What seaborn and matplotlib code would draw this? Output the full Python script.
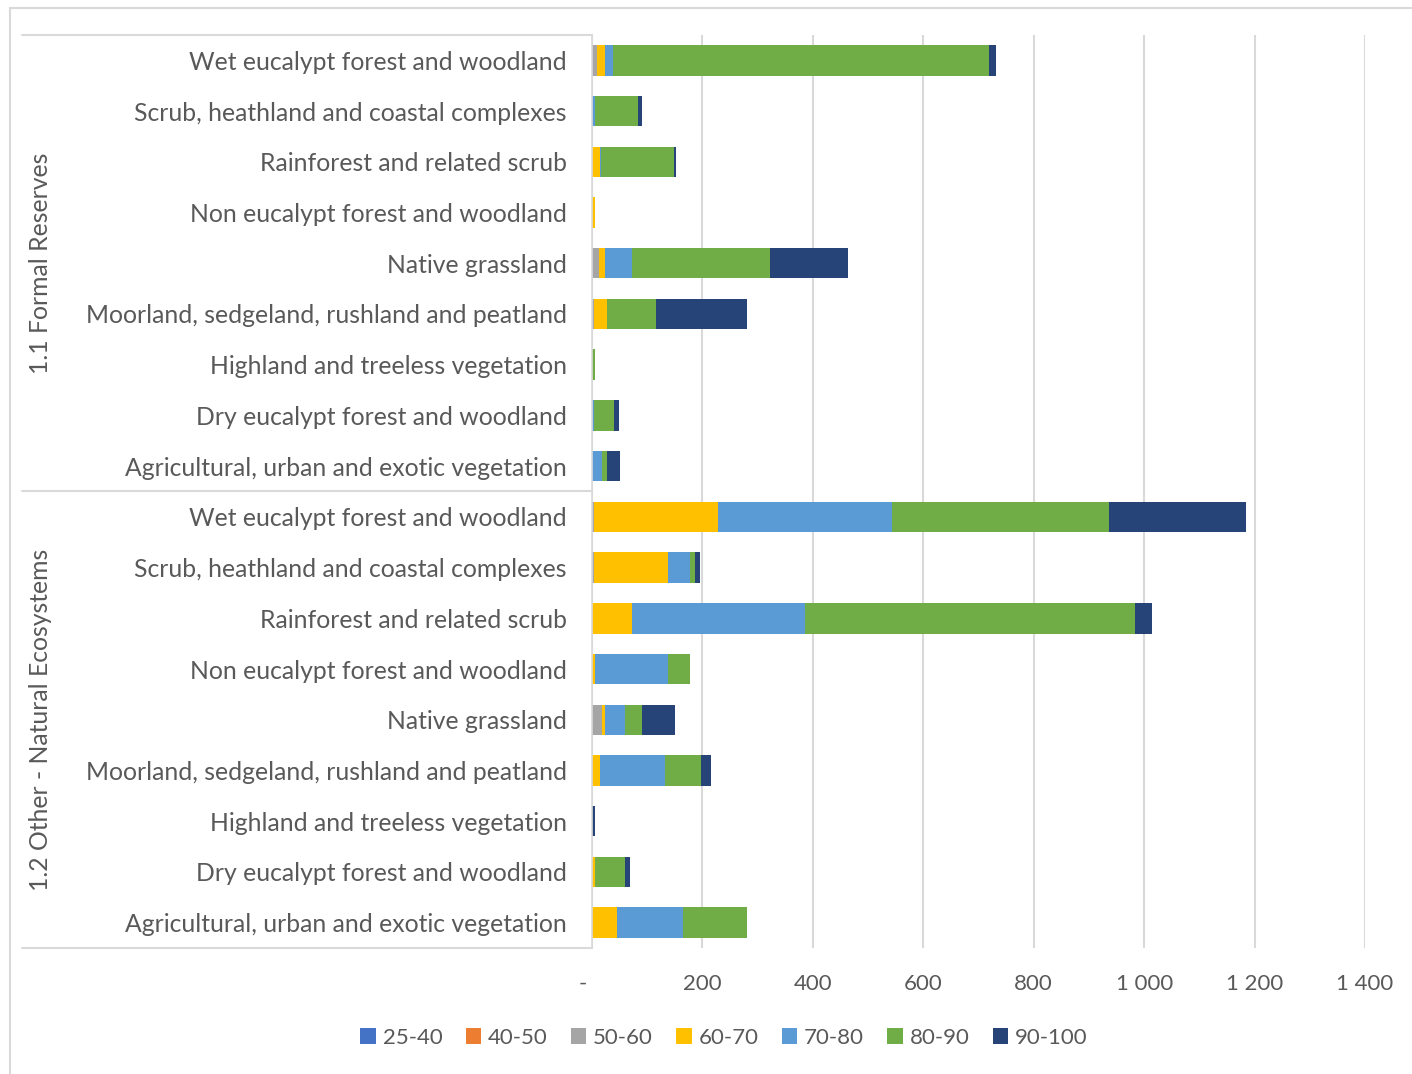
import matplotlib
matplotlib.use("Agg")
import matplotlib.pyplot as plt
import seaborn as sns
import pandas as pd
import numpy as np
from matplotlib.patches import Rectangle, Patch
from matplotlib.lines import Line2D
import matplotlib.transforms as mtransforms

sns.set_theme(style="white")
plt.rcParams['font.family'] = ['Lato', 'DejaVu Sans']

# ---------------- data ----------------
categories = [
    "Wet eucalypt forest and woodland",
    "Scrub, heathland and coastal complexes",
    "Rainforest and related scrub",
    "Non eucalypt forest and woodland",
    "Native grassland",
    "Moorland, sedgeland, rushland and peatland",
    "Highland and treeless vegetation",
    "Dry eucalypt forest and woodland",
    "Agricultural, urban and exotic vegetation",
]
groups = ["1.1 Formal Reserves", "1.2 Other - Natural Ecosystems"]

series_names = ["25-40", "40-50", "50-60", "60-70", "70-80", "80-90", "90-100"]
series_colors = ["#4472C4", "#ED7D31", "#A5A5A5", "#FFC000", "#5B9BD5", "#70AD47", "#264478"]

# values: first 9 = Formal Reserves, next 9 = Other - Natural Ecosystems
s_25_40 = [0, 0, 0, 0, 0, 0, 0, 0, 0,
           0, 0, 0, 0, 0, 0, 0, 0, 0]
s_40_50 = [0, 0, 0, 0, 0, 0, 0, 0, 0,
           0, 0, 0, 0, 0, 0, 0, 0, 0]
s_50_60 = [9, 0, 0, 0, 13, 4, 0, 0, 0,
           4, 4, 0, 0, 18, 0, 0, 0, 0]
s_60_70 = [14.5, 0, 14, 5, 10, 24, 0, 0, 0,
           224, 133, 73, 5, 5, 14, 0, 6, 46]
s_70_80 = [14, 5, 2, 0, 50, 0, 0, 4, 18,
           316, 41, 312, 133, 36, 119, 0, 0, 119]
s_80_90 = [682, 78, 133, 0, 249, 88, 5, 36, 10,
           393, 8, 599, 40, 32, 64, 0, 53, 115]
s_90_100 = [13, 8, 4, 0, 142, 165, 0, 9, 23,
            248, 10, 31, 0, 59, 18, 5, 9, 0]

x_ticks = [0, 200, 400, 600, 800, 1000, 1200, 1400]
x_tick_labels = ["-   ", "200", "400", "600", "800", "1 000", "1 200", "1 400"]

# ---------------- build ----------------
series_vals = [s_25_40, s_40_50, s_50_60, s_60_70, s_70_80, s_80_90, s_90_100]
n = len(categories) * len(groups)
ids = [f"r{i:02d}" for i in range(n)]
labels = categories * len(groups)
df = pd.DataFrame({name: vals for name, vals in zip(series_names, series_vals)})
df["id"] = ids
cum = df[series_names].cumsum(axis=1)

TEXT = "#595959"
GRID = "#D9D9D9"
LABEL_FS = 17.8

fig = plt.figure(figsize=(14.12, 10.74), dpi=100)
ax = fig.add_axes([592 / 1412, 1 - 948 / 1074, (1365 - 592) / 1412, (948 - 35) / 1074])

for k in range(len(series_names) - 1, -1, -1):
    plot_df = pd.DataFrame({"id": ids, "val": cum[series_names[k]].values})
    sns.barplot(data=plot_df, x="val", y="id", order=ids, orient="h",
                color=series_colors[k], width=0.6, saturation=1,
                edgecolor="none", linewidth=0, ax=ax)

ax.set_xlim(0, 1400)
ax.set_ylim(n - 0.5, -0.5)
ax.set_xticks(x_ticks)
ax.set_xticklabels(x_tick_labels, color=TEXT, fontsize=16)
ax.set_yticks(range(n))
ax.set_yticklabels(labels, color=TEXT, fontsize=LABEL_FS)
ax.tick_params(axis="y", length=0, pad=18)
ax.tick_params(axis="x", length=0, pad=19)
ax.set_xlabel("")
ax.set_ylabel("")
ax.set_axisbelow(True)
ax.xaxis.grid(True, color=GRID, linewidth=1.5)
ax.yaxis.grid(False)
for side in ["top", "right", "bottom"]:
    ax.spines[side].set_visible(False)
ax.spines["left"].set_color(GRID)
ax.spines["left"].set_linewidth(1.2)

# group separator lines
trans = mtransforms.blended_transform_factory(fig.transFigure, ax.transData)
x0 = 22 / 1412
x1 = 592 / 1412
for yb in [-0.5, 8.5, 17.5]:
    fig.add_artist(Line2D([x0, x1], [yb, yb], transform=trans, color=GRID, linewidth=1.5))

# group labels
for gi, g in enumerate(groups):
    yc = gi * 9 + 4
    fig.text(41 / 1412, yc, g, transform=trans, rotation=90, ha="center", va="center",
             color=TEXT, fontsize=LABEL_FS)

# outer chart border
fig.add_artist(Rectangle((10 / 1412, -0.01), 1.1, 1 - 8 / 1074 + 0.01, transform=fig.transFigure,
                         fill=False, edgecolor=GRID, linewidth=1.5))

# legend
handles = [Patch(facecolor=c, edgecolor="none") for c in series_colors]
fig.legend(handles, series_names, loc="center", bbox_to_anchor=(724 / 1412, 1 - 1038 / 1074),
           ncol=7, frameon=False, fontsize=16, handlelength=0.7, handleheight=0.7,
           handletextpad=0.3, columnspacing=1.05, labelcolor=TEXT)

fig.savefig("out.png", dpi=100)
